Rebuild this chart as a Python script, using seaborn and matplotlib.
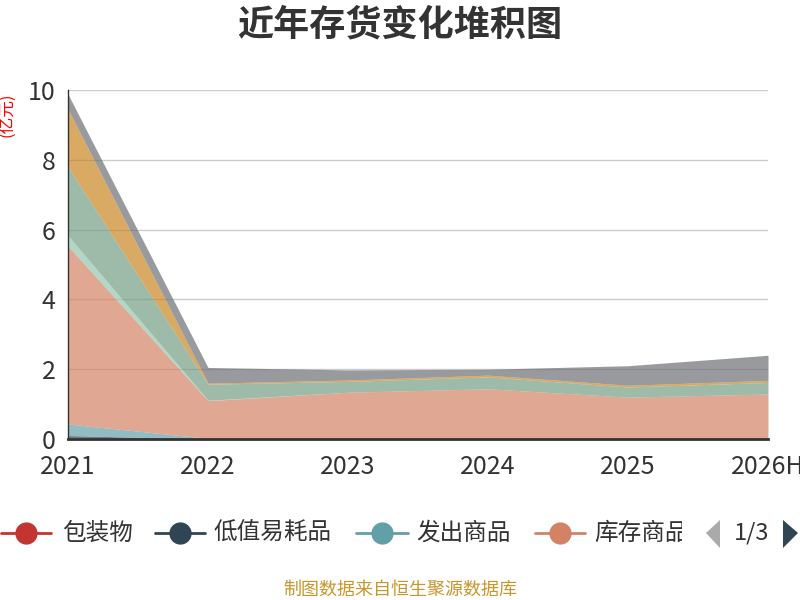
import numpy as np
import pandas as pd
import matplotlib
matplotlib.use('Agg')
import matplotlib.pyplot as plt
import seaborn as sns
from matplotlib.lines import Line2D
from matplotlib.patches import Polygon
from matplotlib.transforms import Bbox

# data (亿元)
years = ['2021', '2022', '2023', '2024', '2025', '2026H']
baozhuangwu = [0.04, 0.00, 0.00, 0.00, 0.00, 0.00]
dizhiyihao = [0.06, 0.00, 0.00, 0.00, 0.00, 0.00]
fachu = [0.33, 0.02, 0.00, 0.00, 0.00, 0.00]
kucun = [5.10, 1.08, 1.34, 1.44, 1.20, 1.29]
weituo = [0.30, 0.01, 0.00, 0.00, 0.00, 0.00]
yuancailiao = [1.97, 0.46, 0.31, 0.34, 0.29, 0.33]
zaichanpin = [1.65, 0.03, 0.04, 0.05, 0.05, 0.06]
zhouzhuan = [0.00, 0.00, 0.00, 0.00, 0.00, 0.00]
qita = [0.43, 0.45, 0.29, 0.17, 0.56, 0.72]

names = ['包装物', '低值易耗品', '发出商品', '库存商品', '委托加工物资',
         '原材料', '在产品', '周转材料', '其他']
palette = ['#c23531', '#2f4554', '#61a0a8', '#d48265', '#91c7ae',
           '#749f83', '#ca8622', '#bda29a', '#6e7074']

df = pd.DataFrame(dict(zip(names, [baozhuangwu, dizhiyihao, fachu, kucun, weituo,
                                   yuancailiao, zaichanpin, zhouzhuan, qita])),
                  index=years)
cum = df.cumsum(axis=1)

sns.set_theme(style='white')
plt.rcParams['font.family'] = ['Noto Sans CJK SC', 'DejaVu Sans']

fig = plt.figure(figsize=(8, 6), dpi=100)
ax = fig.add_axes([0.085, 0.2683, 0.875, 0.5817])

x = np.arange(len(years))
lower = np.zeros(len(years))
for name, col in zip(names, palette):
    upper = cum[name].values
    ax.fill_between(x, lower, upper, color=col, alpha=0.7, linewidth=0)
    lower = upper

ax.set_xlim(0, len(years) - 1)
ax.set_ylim(0, 10)
ax.set_xticks(x)
ax.set_xticklabels(years)
ax.set_yticks([0, 2, 4, 6, 8, 10])
ax.yaxis.grid(True, color='#cccccc', linewidth=1)
ax.xaxis.grid(False)
ax.set_axisbelow(True)
sns.despine(ax=ax, top=True, right=True)
for s in ['left', 'bottom']:
    ax.spines[s].set_color('#333333')
ax.spines['left'].set_linewidth(1.0)
ax.spines['bottom'].set_linewidth(2.0)
ax.tick_params(axis='both', direction='out', length=7, width=1.5, color='#333333',
               labelsize=18, labelcolor='#333333', pad=2)
ax.tick_params(axis='x', length=6, pad=5)

# title, unit, footer
fig.text(0.5, 1 - 25 / 600, '近年存货变化堆积图', ha='center', va='center',
         fontsize=26, fontweight='bold', color='#333333')
fig.text(8 / 800, 1 - 115 / 600, '(亿元)', ha='center', va='center',
         rotation=90, fontsize=12, color='red')
fig.text(0.5, 1 - 590 / 600, '制图数据来自恒生聚源数据库', ha='center', va='center',
         fontsize=13, color='#c8962d')

# legend (page 1 of 3)
leg_y = 1 - 533 / 600
items = [(1, 51, 62), (155, 205, 213), (356, 408, 416), (535, 585, 594)]
for (x0, x1, tx), name, col in zip(items, names[:4], palette[:4]):
    fig.add_artist(Line2D([x0 / 800, x1 / 800], [leg_y, leg_y], transform=fig.transFigure,
                          color=col, linewidth=2))
    fig.add_artist(Line2D([(x0 + x1) / 1600], [leg_y], transform=fig.transFigure,
                          marker='o', markersize=15, color=col, linewidth=0))
    t = fig.text(tx / 800, leg_y, name, ha='left', va='center', fontsize=17, color='#333333')
    if name == '库存商品':
        t.set_clip_on(True)
        t.set_clip_box(Bbox.from_extents(580, 0, 682, 600))

fig.add_artist(Polygon([[720 / 800, 1 - 520 / 600], [720 / 800, 1 - 548 / 600],
                        [706 / 800, leg_y]], closed=True, transform=fig.transFigure,
                       facecolor='#aaaaaa', edgecolor='none'))
fig.text(752 / 800, leg_y, '1/3', ha='center', va='center', fontsize=17, color='#333333')
fig.add_artist(Polygon([[783 / 800, 1 - 520 / 600], [783 / 800, 1 - 548 / 600],
                        [798 / 800, leg_y]], closed=True, transform=fig.transFigure,
                       facecolor='#2f4554', edgecolor='none'))

fig.savefig('out.png', dpi=100)
